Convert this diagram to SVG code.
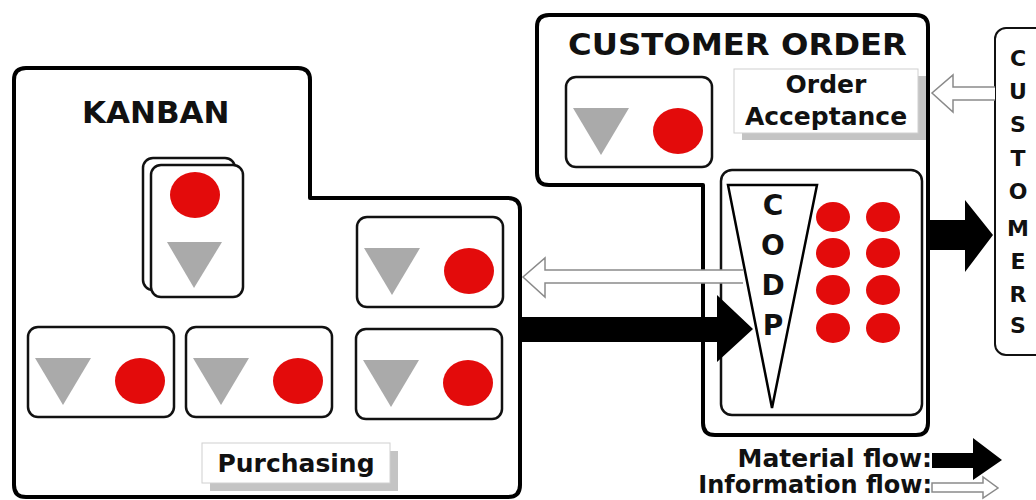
<svg xmlns="http://www.w3.org/2000/svg" width="1036" height="500" viewBox="0 0 1036 500">
  <style>
    .frame { fill: #fff; stroke: #000; stroke-width: 4; stroke-linejoin: round; }
    .card { fill: #fff; stroke: #111; stroke-width: 2.5; }
    .stock { fill: #aaaaaa; }
    .item { fill: #e30b0b; }
    .label { font-family: "DejaVu Sans", Verdana, sans-serif; font-weight: bold; fill: #111; }
    .tag { fill: #fff; stroke: #d0d0d0; stroke-width: 1; }
    .tagshadow { fill: #c4c4c4; }
    .material { fill: #000; stroke: none; }
    .info { fill: #fff; stroke: #8a8a8a; stroke-width: 1.5; stroke-linejoin: miter; }
  </style>
  <defs>
    <!-- a kanban card: stock triangle on the left, item on the right -->
    <g id="cardH">
      <rect class="card" x="0" y="0" width="146" height="90" rx="10"/>
      <polygon class="stock" points="7,31 63,31 35,78"/>
      <ellipse class="item" cx="112" cy="54" rx="25" ry="23"/>
    </g>
  </defs>

  <rect width="1036" height="500" fill="#fff"/>

  <!-- KANBAN area -->
  <g id="kanban">
    <path class="frame" d="M14,80 Q14,68 26,68 H298 Q310,68 310,80 V198 H508 Q520,198 520,210 V485 Q520,497 508,497 H26 Q14,497 14,485 Z"/>
    <text class="label" x="82" y="123" font-size="31">KANBAN</text>
  </g>

  <!-- stacked cards -->
  <g id="card-stack">
    <rect class="card" x="143" y="158" width="92" height="132" rx="10"/>
    <rect class="card" x="151" y="165" width="92" height="132" rx="10"/>
    <ellipse class="item" cx="195" cy="195" rx="25" ry="23"/>
    <polygon class="stock" points="167,242 222,242 194,288"/>
  </g>

  <g id="card-1"><use href="#cardH" x="357" y="217"/></g>
  <g id="card-2"><use href="#cardH" x="28" y="327"/></g>
  <g id="card-3"><use href="#cardH" x="186" y="327"/></g>
  <g id="card-4"><use href="#cardH" x="356" y="329"/></g>

  <!-- Purchasing tag -->
  <g id="purchasing">
    <rect class="tagshadow" x="210" y="451" width="188" height="40"/>
    <rect class="tag" x="202" y="443" width="188" height="40"/>
    <text class="label" x="296" y="472" font-size="25" text-anchor="middle">Purchasing</text>
  </g>

  <!-- CUSTOMER ORDER area -->
  <g id="customer-order">
    <path class="frame" d="M537,27 Q537,15 549,15 H916 Q928,15 928,27 V423 Q928,435 916,435 H715 Q703,435 703,423 V185 H549 Q537,185 537,173 Z"/>
    <text class="label" x="568" y="55" font-size="30" textLength="339" lengthAdjust="spacingAndGlyphs">CUSTOMER ORDER</text>
  </g>

  <g id="order-card"><use href="#cardH" x="566" y="77"/></g>

  <g id="order-acceptance">
    <rect class="tagshadow" x="742" y="76" width="184" height="64"/>
    <rect class="tag" x="734" y="69" width="184" height="64"/>
    <text class="label" x="826" y="93" font-size="25" text-anchor="middle">Order</text>
    <text class="label" x="826" y="125" font-size="25" text-anchor="middle">Acceptance</text>
  </g>

  <!-- customer order decoupling point -->
  <g id="codp">
    <rect class="card" x="721" y="170" width="201" height="245" rx="11"/>
    <polygon fill="#fff" stroke="#000" stroke-width="2.5" points="728,185 817,185 772,408"/>
    <g class="label" font-size="28" text-anchor="middle">
      <text x="773" y="215">C</text>
      <text x="773" y="255">O</text>
      <text x="773" y="295">D</text>
      <text x="773" y="335">P</text>
    </g>
    <g class="item">
      <ellipse cx="833" cy="217" rx="17" ry="15"/>
      <ellipse cx="883" cy="217" rx="17" ry="15"/>
      <ellipse cx="833" cy="253" rx="17" ry="15"/>
      <ellipse cx="883" cy="253" rx="17" ry="15"/>
      <ellipse cx="833" cy="290" rx="17" ry="15"/>
      <ellipse cx="883" cy="290" rx="17" ry="15"/>
      <ellipse cx="833" cy="328" rx="17" ry="15"/>
      <ellipse cx="883" cy="328" rx="17" ry="15"/>
    </g>
  </g>

  <!-- CUSTOMERS -->
  <g id="customers">
    <rect fill="#fff" stroke="#111" stroke-width="2" x="995" y="28" width="52" height="327" rx="11"/>
    <g class="label" font-size="22" text-anchor="middle">
      <text x="1018" y="66">C</text>
      <text x="1018" y="99">U</text>
      <text x="1018" y="132">S</text>
      <text x="1018" y="166">T</text>
      <text x="1018" y="199">O</text>
      <text x="1018" y="236">M</text>
      <text x="1018" y="269">E</text>
      <text x="1018" y="302">R</text>
      <text x="1018" y="333">S</text>
    </g>
  </g>

  <!-- flows -->
  <g id="connectors">
    <!-- customers to order acceptance (information) -->
    <path class="info" d="M995,87 H953 V75 L932,93 L953,112 V100 H995"/>
    <!-- CODP to kanban (information) -->
    <path class="info" d="M743,270 H545 V258 L523,277 L545,297 V283 H743"/>
    <!-- kanban to CODP (material) -->
    <path class="material" d="M522,317 H717 V295 L753,329 L717,362 V342 H522 Z"/>
    <!-- CODP to customers (material) -->
    <path class="material" d="M930,220 H965 V200 L993,235 L965,272 V250 H930 Z"/>
  </g>

  <!-- legend -->
  <g id="legend">
    <text class="label" x="932" y="467" font-size="25" text-anchor="end">Material flow:</text>
    <text class="label" x="932" y="493" font-size="24" text-anchor="end">Information flow:</text>
    <path class="material" d="M932,453 H973 V438 L1002,460 L973,480 V468 H932 Z"/>
    <path class="info" d="M932,483 H983 V477 L998,488 L983,498 V492 H932 Z"/>
  </g>
</svg>
